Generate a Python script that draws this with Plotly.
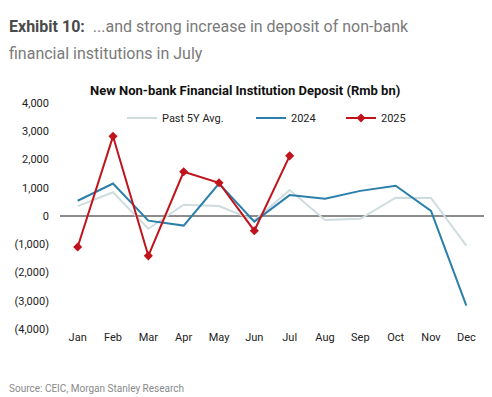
import plotly.graph_objects as go

months = ["Jan", "Feb", "Mar", "Apr", "May", "Jun", "Jul", "Aug", "Sep", "Oct", "Nov", "Dec"]
avg5y = [350, 840, -450, 400, 350, -150, 920, -140, -100, 650, 640, -1050]
y2024 = [540, 1150, -165, -340, 1150, -200, 740, 610, 890, 1070, 180, -3170]
y2025 = [-1100, 2820, -1410, 1565, 1176, -520, 2130]
yticks = [4000, 3000, 2000, 1000, 0, -1000, -2000, -3000, -4000]
yticklabels = ["4,000", "3,000", "2,000", "1,000", "0", "(1,000)", "(2,000)", "(3,000)", "(4,000)"]

W, H = 492, 397
ML, MR, MT, MB = 60, 8, 103, 68
plot_h = H - MT - MB
plot_w = W - ML - MR


def px(xp):
    return (xp - ML) / plot_w


def py(yp):
    return (H - MB - yp) / plot_h


fig = go.Figure()
fig.add_trace(go.Scatter(x=months, y=avg5y, mode="lines", name="Past 5Y Avg.",
                         line=dict(color="#cfdcdf", width=2), legend="legend"))
fig.add_trace(go.Scatter(x=months, y=y2024, mode="lines", name="2024",
                         line=dict(color="#2a7fab", width=2), legend="legend2"))
fig.add_trace(go.Scatter(x=months[:len(y2025)], y=y2025, mode="lines+markers", name="2025",
                         line=dict(color="#c0141c", width=2),
                         marker=dict(symbol="diamond", size=7, color="#c0141c"),
                         legend="legend3"))

leg_common = dict(yanchor="middle", xanchor="left", font=dict(size=11, color="#222222"),
                  bgcolor="rgba(0,0,0,0)", borderwidth=0)

fig.update_layout(
    width=W, height=H,
    margin=dict(l=ML, r=MR, t=MT, b=MB, autoexpand=False),
    paper_bgcolor="white", plot_bgcolor="white",
    font=dict(family="Roboto", color="#333333", size=11),
    showlegend=True,
    legend=dict(x=px(122), y=py(118), **leg_common),
    legend2=dict(x=px(251), y=py(118), **leg_common),
    legend3=dict(x=px(341), y=py(118), **leg_common),
    xaxis=dict(type="category", range=[-0.5, 11.5], showgrid=False, showline=False,
               ticks="", tickfont=dict(size=11, color="#222222"), zeroline=False,
               automargin=False),
    yaxis=dict(range=[-4000, 4000], tickvals=yticks, ticktext=yticklabels,
               showgrid=False, showline=False, ticks="", zeroline=True,
               zerolinecolor="#8c8c8c", zerolinewidth=1.5, automargin=False,
               tickfont=dict(size=11, color="#222222"), ticklabelstandoff=10),
)

fig.add_annotation(xref="paper", yref="paper", x=px(7), y=py(27), xanchor="left", yanchor="middle",
                   showarrow=False,
                   text="<b>Exhibit 10:</b>  <span style='color:#7a7a7a'>...and strong increase in deposit of non-bank</span>",
                   font=dict(size=16, color="#4a4a4a", family="Roboto"))
fig.add_annotation(xref="paper", yref="paper", x=px(7), y=py(53), xanchor="left", yanchor="middle",
                   showarrow=False, text="financial institutions in July",
                   font=dict(size=16, color="#7a7a7a", family="Roboto"))
fig.add_annotation(xref="paper", yref="paper", x=px(245), y=py(91), xanchor="center", yanchor="middle",
                   showarrow=False, text="<b>New Non-bank Financial Institution Deposit (Rmb bn)</b>",
                   font=dict(size=13, color="#111111", family="Roboto"))
fig.add_annotation(xref="paper", yref="paper", x=px(7), y=py(388), xanchor="left", yanchor="middle",
                   showarrow=False, text="Source: CEIC, Morgan Stanley Research",
                   font=dict(size=10, color="#8a8a8a", family="Roboto"))

fig.write_html("out.html", config={"displayModeBar": False},
               post_script="document.body.style.margin='0';document.body.style.padding='0';")
